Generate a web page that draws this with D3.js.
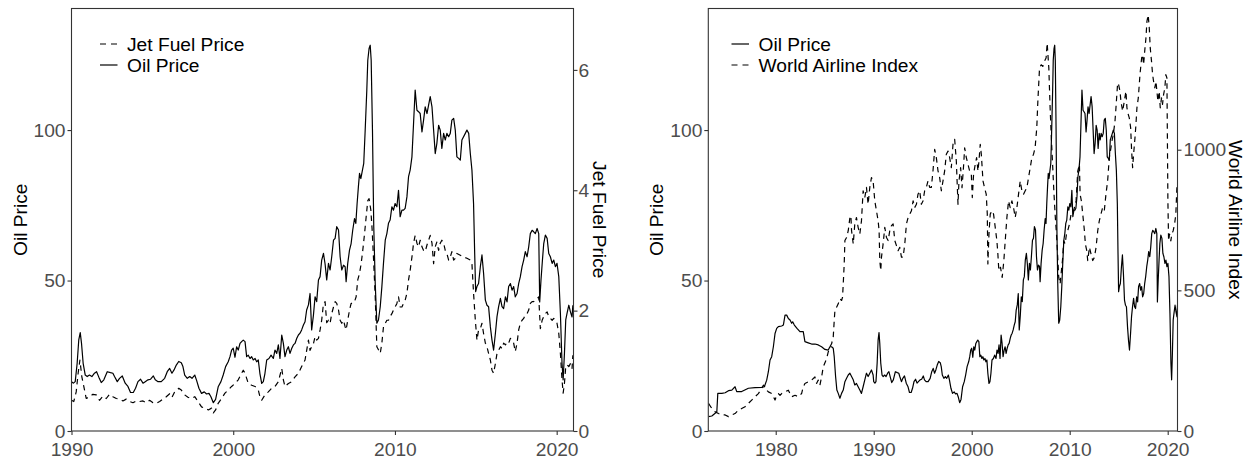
<!DOCTYPE html>
<html><head><meta charset="utf-8">
<script src="https://cdn.jsdelivr.net/npm/d3@7"></script>
<style>body{margin:0;background:#fff}svg{display:block;font-family:"Liberation Sans",Arial,Helvetica,sans-serif}</style>
</head><body><svg id="c" width="1247" height="458"></svg>
<script>
// ---- data ----
const oilYears = [1973.14,1973.48,1973.82,1973.99,1974.09,1974.50,1974.84,1975.18,1975.52,1975.85,1976.02,1976.53,1977.21,1977.89,1978.57,1978.84,1979.08,1979.25,1979.42,1979.59,1979.76,1979.93,1980.10,1980.27,1980.61,1980.78,1980.95,1981.12,1981.29,1981.46,1981.63,1981.73,1981.90,1982.17,1982.47,1982.81,1982.98,1983.32,1983.66,1984.00,1984.34,1984.68,1985.02,1985.36,1985.53,1985.70,1985.87,1985.97,1986.11,1986.24,1986.38,1986.55,1986.72,1986.89,1987.06,1987.23,1987.40,1987.57,1987.74,1987.91,1988.07,1988.24,1988.41,1988.58,1988.75,1988.92,1989.09,1989.26,1989.43,1989.60,1989.77,1989.94,
1990.00,1990.12,1990.23,1990.35,1990.45,1990.54,1990.62,1990.72,1990.85,1990.97,1991.11,1991.26,1991.42,1991.55,1991.69,1991.84,1992.00,1992.21,1992.41,1992.56,1992.66,1992.83,1992.97,1993.14,1993.32,1993.49,1993.65,1993.82,1993.96,1994.11,1994.27,1994.42,1994.56,1994.73,1994.89,1995.06,1995.18,1995.35,1995.55,1995.76,1995.92,1996.07,1996.21,1996.34,1996.48,1996.63,1996.79,1996.89,1997.00,1997.16,1997.31,1997.45,1997.62,1997.73,1997.88,
1998.04,1998.21,1998.35,1998.50,1998.62,1998.77,1998.91,1999.07,1999.24,1999.38,1999.53,1999.69,1999.80,1999.90,2000.00,2000.11,2000.21,2000.31,2000.42,2000.52,2000.62,2000.73,2000.83,2000.93,2001.04,2001.14,2001.24,2001.35,2001.45,2001.55,2001.65,2001.76,2001.86,2001.96,2002.07,2002.21,2002.34,2002.48,2002.58,2002.69,2002.79,2002.89,2003.00,2003.10,2003.20,2003.31,2003.41,2003.51,2003.62,2003.72,2003.82,2003.93,2004.03,2004.13,2004.23,2004.34,2004.44,2004.54,2004.65,2004.75,2004.85,2004.96,2005.06,2005.16,2005.27,2005.37,2005.47,2005.58,2005.68,2005.78,
2005.89,2005.99,2006.09,2006.20,2006.30,2006.40,2006.51,2006.61,2006.71,2006.82,2006.92,2006.98,2007.08,2007.19,2007.29,2007.39,2007.50,2007.58,2007.66,2007.74,2007.81,2007.89,2007.99,2008.07,2008.16,2008.26,2008.32,2008.40,2008.47,2008.53,2008.61,2008.69,2008.78,2008.88,2008.98,2009.09,2009.19,2009.29,2009.40,2009.50,2009.60,2009.70,2009.81,2009.91,2010.01,2010.12,2010.22,2010.32,2010.43,2010.53,2010.63,2010.74,2010.84,2010.94,2011.05,2011.15,2011.25,2011.36,2011.46,2011.56,2011.67,2011.77,2011.87,2011.98,2012.08,2012.18,2012.29,2012.39,2012.49,2012.59,2012.70,2012.80,2012.90,2013.01,2013.11,2013.21,2013.32,2013.42,2013.52,2013.63,2013.73,2013.83,2013.94,
2014.04,2014.14,2014.35,2014.45,2014.56,2014.66,2014.76,2014.86,2014.93,2014.99,2015.07,2015.17,2015.28,2015.38,2015.48,2015.59,2015.69,2015.79,2015.90,2016.00,2016.10,2016.21,2016.31,2016.41,2016.52,2016.62,2016.72,2016.83,2016.93,2017.03,2017.14,2017.24,2017.34,2017.44,2017.55,2017.65,2017.75,2017.86,2017.96,2018.06,2018.17,2018.27,2018.37,2018.48,2018.58,2018.68,2018.79,2018.89,2018.95,2019.03,2019.12,2019.20,2019.30,2019.41,2019.51,2019.61,2019.72,2019.82,2019.92,2020.02,2020.13,2020.23,2020.33,2020.40,2020.48,2020.56,2020.64,2020.75,2020.85,2020.95,2021.00];
const oilValues = [4.76,4.98,5.87,6.42,12.5,12.5,12.7,13.4,13.6,14.7,13.1,13.1,14.2,14.4,14.5,14.7,16.9,19.7,23.6,24.7,28.0,32.4,34.1,34.7,34.9,35.2,38.5,38.5,37.4,36.9,35.8,36.3,35.2,34.1,33.0,33.0,29.7,29.3,28.9,28.9,28.6,28.0,27.1,26.9,28.0,28.0,27.5,24.7,18.1,13.6,12.5,10.9,12.5,13.6,16.4,17.5,18.6,19.2,18.1,17.0,15.3,15.8,14.7,13.6,12.5,14.7,17.0,19.2,18.1,19.2,20.3,18.6,
16.4,15.9,16.4,22.5,30.3,32.7,29.1,22.5,18.6,18.1,18.6,18.1,19.2,19.7,17.9,16.1,17.0,19.7,19.4,19.2,18.1,16.4,17.5,18.3,15.9,14.8,12.8,12.8,14.2,16.4,17.2,15.9,16.4,17.0,17.2,18.3,17.0,16.4,16.4,17.5,19.7,20.8,19.2,20.3,21.9,23.1,22.7,21.4,18.6,17.5,18.1,17.5,18.6,16.9,14.2,
12.5,13.0,12.3,12.5,11.4,9.4,10.5,14.7,16.4,18.6,21.4,23.0,24.7,26.9,27.5,24.5,28.0,26.9,29.1,29.7,30.2,29.7,24.7,25.2,24.1,24.7,23.6,24.1,23.0,23.6,19.1,15.8,16.4,19.1,23.6,24.1,25.2,24.1,26.9,25.8,28.6,24.1,31.9,29.1,24.7,26.9,28.0,25.8,27.5,28.6,29.1,30.8,31.9,32.5,33.6,35.2,36.3,40.2,41.9,45.7,33.6,38.5,44.6,43.0,50.2,51.3,56.8,59.0,55.5,50.2,
55.7,53.5,57.9,63.4,64.0,67.9,66.8,57.9,53.5,55.1,54.6,49.6,55.7,60.1,62.3,66.8,70.6,69.0,75.6,81.2,85.6,83.9,86.7,88.9,100.0,113.3,123.2,127.1,128.2,123.2,100.0,67.9,49.0,35.8,36.9,41.3,47.9,55.7,63.4,65.6,69.0,70.1,74.5,73.4,75.6,74.5,80.0,71.2,73.4,73.4,74.0,77.8,84.5,86.7,91.1,102.2,113.3,106.6,106.1,105.5,99.4,103.3,107.7,105.5,108.3,111.1,107.7,100.0,92.2,95.5,101.6,100.0,93.9,98.9,96.7,98.9,97.8,98.9,103.3,103.9,100.0,91.1,90.6,
90.0,96.7,98.9,100.0,98.9,92.2,86.7,75.6,59.0,46.3,48.0,49.0,54.6,58.5,52.4,43.5,41.8,41.3,34.6,30.2,26.9,32.4,38.0,41.3,44.1,41.3,40.7,44.6,42.9,48.0,49.0,46.8,48.0,44.6,45.7,49.0,51.2,54.6,56.8,59.6,57.9,61.2,65.6,66.7,66.2,65.6,67.3,65.6,42.9,50.2,56.8,62.3,65.1,64.0,59.0,57.9,55.7,56.8,54.6,55.7,51.3,39.1,22.5,17.0,25.8,36.9,39.1,41.8,39.6,37.9,41.8];

const jetYears = [1990.00,1990.14,1990.29,1990.41,1990.52,1990.64,1990.76,1990.91,1991.11,1991.32,1991.53,1991.73,1991.94,1992.15,1992.35,1992.56,1992.77,1992.97,1993.18,1993.38,1993.59,1993.80,1994.00,1994.21,1994.42,1994.62,1994.83,1995.04,1995.24,1995.45,1995.66,1995.86,1996.07,1996.21,1996.38,1996.63,1996.79,1997.00,1997.20,1997.41,1997.62,1997.82,
1998.04,1998.25,1998.46,1998.66,1998.77,1998.91,1999.07,1999.28,1999.49,1999.69,1999.90,2000.11,2000.31,2000.52,2000.62,2000.73,2000.93,2001.14,2001.35,2001.55,2001.65,2001.76,2001.96,2002.17,2002.38,2002.58,2002.79,2003.00,2003.10,2003.20,2003.41,2003.62,2003.82,2004.03,2004.23,2004.44,2004.65,2004.75,2004.85,2004.96,2005.06,2005.16,2005.27,2005.37,2005.47,2005.58,2005.68,
2005.78,2005.89,2005.99,2006.09,2006.20,2006.30,2006.40,2006.51,2006.61,2006.71,2006.82,2006.92,2006.98,2007.08,2007.19,2007.29,2007.39,2007.50,2007.60,2007.70,2007.81,2007.91,2008.01,2008.12,2008.22,2008.32,2008.40,2008.51,2008.59,2008.69,2008.78,2008.88,2008.98,2009.09,2009.19,2009.29,2009.40,2009.50,2009.60,2009.70,2009.81,2009.91,2010.01,2010.12,2010.22,2010.32,2010.43,2010.53,2010.63,2010.74,2010.84,2010.94,2011.05,2011.15,2011.25,2011.36,2011.46,2011.56,2011.67,2011.77,2011.87,2011.98,2012.08,2012.18,2012.29,2012.39,2012.49,2012.59,2012.70,2012.80,2012.90,2013.01,2013.11,2013.21,2013.32,2013.42,2013.52,2013.63,2013.73,
2013.83,2014.04,2014.25,2014.45,2014.66,2014.76,2014.86,2014.97,2015.07,2015.17,2015.28,2015.38,2015.48,2015.59,2015.69,2015.79,2015.90,2016.00,2016.10,2016.21,2016.31,2016.41,2016.52,2016.62,2016.72,2016.83,2016.93,2017.03,2017.14,2017.24,2017.34,2017.44,2017.55,2017.65,2017.75,2017.86,2017.96,2018.06,2018.17,2018.27,2018.37,2018.48,2018.58,2018.68,2018.79,2018.89,2018.99,2019.10,2019.20,2019.30,2019.41,2019.51,2019.61,2019.72,2019.82,2019.92,2020.02,2020.13,2020.23,2020.33,2020.40,2020.48,2020.56,2020.64,2020.75,2020.85,2020.95,2021.00];
const jetValues = [0.51,0.49,0.65,0.96,1.18,0.90,0.74,0.54,0.57,0.61,0.60,0.51,0.58,0.54,0.61,0.57,0.54,0.53,0.50,0.53,0.49,0.47,0.50,0.49,0.50,0.47,0.51,0.47,0.46,0.49,0.53,0.57,0.62,0.56,0.65,0.71,0.68,0.60,0.56,0.54,0.57,0.49,
0.40,0.38,0.35,0.38,0.30,0.35,0.46,0.54,0.63,0.68,0.74,0.79,0.85,0.96,1.01,0.96,0.79,0.76,0.74,0.68,0.57,0.51,0.60,0.65,0.71,0.74,0.82,1.04,0.85,0.74,0.79,0.82,0.90,0.96,1.07,1.18,1.51,1.34,1.40,1.45,1.57,1.51,1.54,1.68,1.84,2.12,2.15,
1.80,1.84,1.79,1.95,2.06,2.15,2.12,2.01,1.84,1.79,1.84,1.73,1.68,1.84,2.01,2.12,2.12,2.15,2.23,2.51,2.62,2.78,3.00,3.28,3.56,3.83,3.86,3.67,3.34,2.78,2.23,1.40,1.35,1.29,1.46,1.73,1.79,1.84,1.84,1.90,1.95,2.01,2.06,2.12,2.23,2.06,2.06,2.12,2.17,2.29,2.51,2.67,2.89,3.12,3.25,3.12,3.06,3.17,3.06,3.00,2.98,3.09,3.17,3.25,3.12,2.78,3.06,3.14,3.00,3.12,3.17,3.12,3.00,2.95,2.84,2.89,2.98,2.84,2.87,
2.95,2.92,2.89,2.87,2.84,2.78,2.29,1.84,1.51,1.68,1.70,1.79,1.62,1.46,1.40,1.29,1.18,1.01,0.96,1.12,1.29,1.34,1.40,1.37,1.46,1.43,1.48,1.46,1.54,1.51,1.46,1.32,1.46,1.68,1.79,1.84,1.87,1.93,1.95,2.01,2.12,2.15,2.15,2.17,2.20,2.23,1.70,1.84,1.90,1.95,1.98,1.90,1.87,1.84,1.87,1.84,1.79,1.62,1.29,0.85,0.63,0.79,1.07,1.10,1.07,1.12,1.04,1.26];

const indexYears = [1973.14,1973.48,1973.82,1974.16,1974.50,1974.84,1975.18,1975.52,1975.85,1976.19,1976.53,1976.87,1977.21,1977.55,1977.89,1978.23,1978.57,1978.74,1978.91,1979.08,1979.25,1979.59,1979.76,1979.93,1980.10,1980.27,1980.44,1980.61,1980.95,1981.29,1981.46,1981.63,1981.97,1982.30,1982.64,1982.81,1982.98,1983.32,1983.66,1984.00,1984.17,1984.34,1984.51,1984.68,1984.85,1985.19,1985.36,1985.53,
1985.70,1985.87,1985.97,1986.04,1986.21,1986.38,1986.55,1986.72,1986.82,1986.89,1986.99,1987.06,1987.23,1987.40,1987.57,1987.67,1987.74,1987.91,1988.07,1988.24,1988.41,1988.58,1988.75,1988.92,1989.09,1989.26,1989.43,1989.60,1989.77,1989.94,1990.11,1990.28,1990.45,1990.55,1990.62,1990.72,1990.79,1990.96,1991.13,1991.30,1991.47,1991.64,1991.81,1991.98,1992.15,1992.32,1992.49,1992.66,1992.83,1993.00,1993.17,1993.34,1993.51,1993.68,1993.85,1994.02,1994.19,1994.36,1994.52,1994.69,1994.86,1995.03,1995.20,1995.37,1995.54,1995.71,1995.88,1996.05,1996.22,1996.39,1996.56,1996.73,1996.90,1997.07,1997.24,1997.41,1997.58,1997.75,1997.92,1998.09,1998.26,1998.43,1998.60,
1998.70,1998.87,1999.01,1999.18,1999.28,1999.45,1999.62,1999.79,1999.96,2000.06,2000.19,2000.36,2000.50,2000.64,2000.74,2000.87,2000.98,2001.15,2001.31,2001.48,2001.59,2001.65,2001.76,2001.89,2002.06,2002.23,2002.40,2002.57,2002.67,2002.77,2002.94,2003.11,2003.28,2003.42,2003.59,2003.76,2003.93,2004.10,2004.27,2004.44,2004.61,2004.78,2004.95,2005.12,2005.29,2005.46,2005.63,2005.80,2005.97,2006.14,2006.31,2006.47,2006.64,2006.75,2006.92,2007.09,2007.25,2007.42,2007.59,2007.70,2007.87,2008.00,2008.14,2008.27,2008.38,2008.51,2008.65,2008.78,2008.88,2009.02,2009.12,2009.26,2009.39,2009.53,2009.67,2009.80,2009.97,2010.14,2010.31,2010.48,2010.65,2010.82,2010.99,
2011.06,2011.19,2011.33,2011.50,2011.60,2011.74,2011.84,2012.01,2012.18,2012.35,2012.52,2012.69,2012.86,2013.02,2013.19,2013.36,2013.53,2013.70,2013.87,2014.04,2014.21,2014.31,2014.45,2014.62,2014.72,2014.89,2014.99,2015.13,2015.23,2015.40,2015.57,2015.74,2015.84,2015.98,2016.08,2016.22,2016.32,2016.42,2016.52,2016.66,2016.76,2016.86,2017.00,2017.17,2017.34,2017.44,2017.54,2017.68,2017.78,2017.88,2018.01,2018.12,2018.22,2018.35,2018.46,2018.56,2018.69,2018.80,2018.90,2019.00,2019.13,2019.24,2019.37,2019.47,2019.58,2019.71,2019.81,2019.92,2020.02,2020.09,2020.19,2020.32,2020.42,2020.56,2020.70,2020.83,2020.95];
const indexValues = [98,80,68,62,57,57,51,57,62,74,80,86,98,110,122,133,151,163,157,145,139,133,122,110,127,133,127,133,139,145,133,122,127,122,133,157,169,175,181,192,169,181,163,192,228,257,281,299,
310,334,393,428,440,452,470,464,476,523,594,677,688,712,759,765,712,665,736,759,724,700,747,854,830,866,806,866,901,889,818,783,747,712,606,570,617,665,724,688,677,712,730,736,677,659,641,653,618,618,665,736,759,771,783,818,795,806,842,854,806,818,854,866,889,866,866,925,1001,972,925,901,854,889,925,984,995,972,936,1019,1037,960,806,
889,936,865,948,1007,972,948,924,913,830,913,948,972,924,960,1019,984,889,865,842,771,594,700,771,783,771,724,676,629,570,582,546,606,676,759,818,794,818,794,759,794,842,889,854,842,854,865,901,936,972,984,1007,1078,1172,1290,1302,1296,1314,1326,1379,1290,1149,1031,936,854,771,700,617,546,523,558,606,676,665,700,712,735,771,771,794,818,924,948,
842,818,771,712,664,641,606,653,629,606,617,653,712,747,771,794,783,842,889,972,1007,1031,1054,1101,1149,1237,1231,1208,1172,1137,1172,1208,1149,1125,1113,1078,995,936,984,1042,1090,1149,1184,1267,1326,1338,1302,1361,1397,1456,1479,1432,1361,1314,1267,1243,1220,1243,1208,1172,1208,1149,1184,1161,1196,1220,1267,1255,818,676,700,676,700,712,735,771,877];

const leftXTicks = [1990, 2000, 2010, 2020];
const rightXTicks = [1980, 1990, 2000, 2010, 2020];
const oilTicks = [0, 50, 100];
const jetTicks = [0, 2, 4, 6];
const indexTicks = [0, 500, 1000];

// ---- drawing ----
const svg = d3.select('#c');
const TOP = 8.5, BOTTOM = 431;
const TICK_COLOR = '#333333', LABEL_COLOR = '#4d4d4d';
const DASH = '5.5,4.5';
const TICK_FONT = 19.2, TITLE_FONT = 19.2, LEGEND_FONT = 19.2;

function zip(xs, ys) { return xs.map((x, i) => ({x, y: ys[i]})); }

function panel(cfg) {
  const g = svg.append('g');
  const x = d3.scaleLinear().domain(cfg.xDomain).range([cfg.left, cfg.right]);
  const yL = d3.scaleLinear().domain(cfg.yLDomain).range([BOTTOM, TOP]);
  const yR = d3.scaleLinear().domain(cfg.yRDomain).range([BOTTOM, TOP]);
  const clipId = 'clip' + cfg.id;
  svg.append('clipPath').attr('id', clipId).append('rect')
    .attr('x', cfg.left).attr('y', TOP).attr('width', cfg.right - cfg.left).attr('height', BOTTOM - TOP);

  const plot = g.append('g').attr('clip-path', `url(#${clipId})`);
  cfg.series.forEach(s => {
    const sc = s.axis === 'L' ? yL : yR;
    const data = zip(s.years, s.values).filter(d => d.x >= cfg.xDomain[0] - 1e-9 && d.x <= cfg.xDomain[1] + 0.2);
    plot.append('path').datum(data)
      .attr('fill', 'none').attr('stroke', '#000').attr('stroke-width', 1.2)
      .attr('stroke-linejoin', 'round')
      .attr('stroke-dasharray', s.dashed ? DASH : null)
      .attr('d', d3.line().x(d => x(d.x)).y(d => sc(d.y)));
  });

  // border
  g.append('rect').attr('x', cfg.left).attr('y', TOP)
    .attr('width', cfg.right - cfg.left).attr('height', BOTTOM - TOP)
    .attr('fill', 'none').attr('stroke', TICK_COLOR).attr('stroke-width', 1.1);

  function styleAxis(sel) {
    sel.select('.domain').remove();
    sel.selectAll('line').attr('stroke', TICK_COLOR).attr('stroke-width', 1.1);
    sel.selectAll('text').attr('fill', LABEL_COLOR).attr('font-size', TICK_FONT)
      .attr('font-family', '"Liberation Sans", Arial, sans-serif');
  }
  g.append('g').attr('transform', `translate(0,${BOTTOM})`)
    .call(d3.axisBottom(x).tickValues(cfg.xTicks).tickFormat(d3.format('d')).tickSize(4).tickPadding(7.5))
    .call(styleAxis);
  g.append('g').attr('transform', `translate(${cfg.left},0)`)
    .call(d3.axisLeft(yL).tickValues(cfg.yLTicks).tickFormat(d3.format('d')).tickSize(4).tickPadding(cfg.padL))
    .call(styleAxis);
  g.append('g').attr('transform', `translate(${cfg.right},0)`)
    .call(d3.axisRight(yR).tickValues(cfg.yRTicks).tickFormat(d3.format('d')).tickSize(4).tickPadding(cfg.padR))
    .call(styleAxis);

  // axis titles
  g.append('text').attr('transform', `translate(${cfg.titleLX},${(TOP + BOTTOM) / 2}) rotate(-90)`)
    .attr('text-anchor', 'middle').attr('font-size', TITLE_FONT).attr('fill', '#000').text(cfg.titleL);
  g.append('text').attr('transform', `translate(${cfg.titleRX},${(TOP + BOTTOM) / 2}) rotate(90)`)
    .attr('text-anchor', 'middle').attr('font-size', TITLE_FONT).attr('fill', '#000').text(cfg.titleR);

  // legend
  const lg = g.append('g');
  cfg.legend.forEach((it, i) => {
    const cy = cfg.legendY + i * 21;
    lg.append('line').attr('x1', cfg.legendX).attr('x2', cfg.legendX + 17.5)
      .attr('y1', cy).attr('y2', cy).attr('stroke', '#000').attr('stroke-width', 1.2)
      .attr('stroke-dasharray', it.dashed ? '6,5' : null);
    lg.append('text').attr('x', cfg.legendX + 27).attr('y', cy + 6.8)
      .attr('font-size', LEGEND_FONT).attr('fill', '#000').text(it.label);
  });
}

panel({
  id: 'L', left: 71.5, right: 573.5, xDomain: [1990, 2021.04], xTicks: leftXTicks,
  yLDomain: [0, 140.4], yRDomain: [0, 7.02], yLTicks: oilTicks, yRTicks: jetTicks, padL: 2, padR: 1,
  series: [
    {years: jetYears, values: jetValues, axis: 'R', dashed: true},
    {years: oilYears, values: oilValues, axis: 'L', dashed: false}
  ],
  titleL: 'Oil Price', titleLX: 26.7, titleR: 'Jet Fuel Price', titleRX: 592.5,
  legendX: 100, legendY: 44,
  legend: [{label: 'Jet Fuel Price', dashed: true}, {label: 'Oil Price', dashed: false}]
});

panel({
  id: 'R', left: 708.3, right: 1177.5, xDomain: [1973.12, 2021.0], xTicks: rightXTicks,
  yLDomain: [0, 140.4], yRDomain: [0, 1502], yLTicks: oilTicks, yRTicks: indexTicks, padL: 2, padR: 2,
  series: [
    {years: oilYears, values: oilValues, axis: 'L', dashed: false},
    {years: indexYears, values: indexValues, axis: 'R', dashed: true}
  ],
  titleL: 'Oil Price', titleLX: 663.3, titleR: 'World Airline Index', titleRX: 1228.5,
  legendX: 731.5, legendY: 44,
  legend: [{label: 'Oil Price', dashed: false}, {label: 'World Airline Index', dashed: true}]
});
</script></body></html>
